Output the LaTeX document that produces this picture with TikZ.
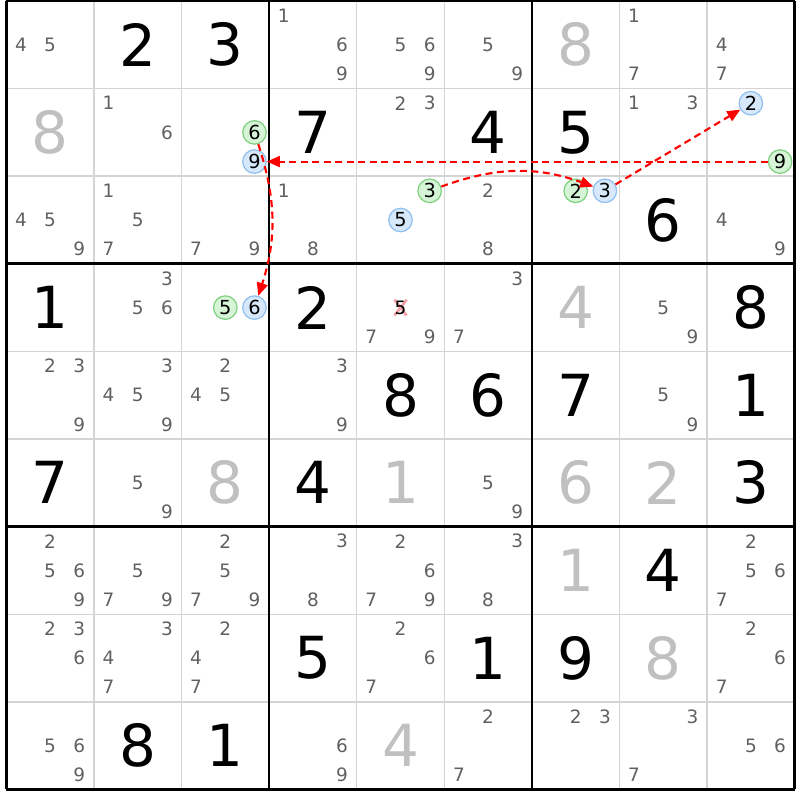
\documentclass[tikz,border=0pt]{standalone}
\usepackage{fontspec}
\setmainfont{DejaVu Sans}
\usetikzlibrary{arrows.meta}

\definecolor{candgray}{HTML}{606060}
\definecolor{solvedgray}{HTML}{C0C0C0}
\definecolor{gridgray}{HTML}{D4D4D4}
\definecolor{greenfill}{HTML}{D6F5D6}
\definecolor{greenline}{HTML}{80D080}
\definecolor{bluefill}{HTML}{D6E8FA}
\definecolor{blueline}{HTML}{90C0F0}
\definecolor{xpink}{HTML}{F4A0A8}
\definecolor{linkred}{HTML}{FF0000}

\tikzset{
  given/.style={font=\fontsize{33}{33}\selectfont, text=black, inner sep=0pt},
  solved/.style={given, text=solvedgray},
  cand/.style={font=\fontsize{10.5}{10.5}\selectfont, text=candgray, inner sep=0pt},
  oncand/.style={circle, draw=greenline, fill=greenfill, line width=0.7pt, minimum size=0.47cm, inner sep=0pt, font=\fontsize{11}{11}\selectfont},
  offcand/.style={oncand, draw=blueline, fill=bluefill},
  thinline/.style={gridgray, line width=0.8pt},
  boxline/.style={black, line width=1.5pt},
  xmark/.style={xpink, line width=1.5pt},
  link/.style={draw=linkred, dash pattern=on 1.4mm off 0.9mm, line width=1.2pt, -{Triangle[length=2.6mm,width=2.2mm]}},
}

\begin{document}
\begin{tikzpicture}[x=1.752cm, y=-1.752cm]
		\useasboundingbox (-0.0719,-0.0114) rectangle (9.0605,9.1210);
		
		% Grid
		\foreach \i in {1,2,4,5,7,8} {
			\draw[thinline] (\i,0) -- (\i,9);
			\draw[thinline] (0,\i) -- (9,\i);
		}
		\foreach \i in {0,3,6,9} {
			\draw[boxline] (\i,0) -- (\i,9);
			\draw[boxline] (0,\i) -- (9,\i);
		}
		
		% Givens
		\foreach \r/\c/\d in {1/2/2, 1/3/3, 2/4/7, 2/6/4, 2/7/5, 3/8/6, 4/1/1, 4/4/2, 4/9/8,
				5/5/8, 5/6/6, 5/7/7, 5/9/1, 6/1/7, 6/4/4, 6/9/3, 7/8/4, 8/4/5, 8/6/1, 8/7/9,
				9/2/8, 9/3/1}
			\node[given] (v\r\c) at (\c-0.5,\r-0.5) {\d};
		
		% Solved
		\foreach \r/\c/\d in {1/7/8, 2/1/8, 4/7/4, 6/3/8, 6/5/1, 6/7/6, 6/8/2, 7/7/1, 8/8/8, 9/5/4}
			\node[solved] (v\r\c) at (\c-0.5,\r-0.5) {\d};
		
		% Candidates
		\foreach \r/\c/\ds in {1/1/{4,5}, 1/4/{1,6,9}, 1/5/{5,6,9}, 1/6/{5,9}, 1/8/{1,7}, 1/9/{4,7},
				2/2/{1,6}, 2/5/{2,3}, 2/8/{1,3},
				3/1/{4,5,9}, 3/2/{1,5,7}, 3/3/{7,9}, 3/4/{1,8}, 3/6/{2,8}, 3/9/{4,9},
				4/2/{3,5,6}, 4/5/{7,9}, 4/6/{3,7}, 4/8/{5,9},
				5/1/{2,3,9}, 5/2/{3,4,5,9}, 5/3/{2,4,5}, 5/4/{3,9}, 5/8/{5,9},
				6/2/{5,9}, 6/6/{5,9},
				7/1/{2,5,6,9}, 7/2/{5,7,9}, 7/3/{2,5,7,9}, 7/4/{3,8}, 7/5/{2,6,7,9}, 7/6/{3,8}, 7/9/{2,5,6,7},
				8/1/{2,3,6}, 8/2/{3,4,7}, 8/3/{2,4,7}, 8/5/{2,6,7}, 8/9/{2,6,7},
				9/1/{5,6,9}, 9/4/{6,9}, 9/6/{2,7}, 9/7/{2,3}, 9/8/{3,7}, 9/9/{5,6}}
			\foreach \d in \ds {
				\pgfmathsetmacro{\cx}{\c-1+(2*mod(\d-1,3)+1)/6}
				\pgfmathsetmacro{\cy}{\r-1+(2*int((\d-1)/3)+1)/6}
				\node[cand] (r\r c\c n\d) at (\cx,\cy) {\d};
			}
		
		% Chain
		\node[oncand] (r2c3n6) at (2.833,1.5) {6};
		\node[offcand] (r2c3n9) at (2.833,1.833) {9};
		\node[offcand] (r2c9n2) at (8.5,1.167) {2};
		\node[oncand] (r2c9n9) at (8.833,1.833) {9};
		\node[oncand] (r3c5n3) at (4.833,2.167) {3};
		\node[offcand] (r3c5n5) at (4.5,2.5) {5};
		\node[oncand] (r3c7n2) at (6.5,2.167) {2};
		\node[offcand] (r3c7n3) at (6.833,2.167) {3};
		\node[oncand] (r4c3n5) at (2.5,3.5) {5};
		\node[offcand] (r4c3n6) at (2.833,3.5) {6};
		
		% Elimination
		\draw[xmark] (4.43,3.41) -- (4.57,3.59);
		\draw[xmark] (4.43,3.59) -- (4.57,3.41);
		\node[cand, text=black] (r4c5n5) at (4.5,3.5) {5};
		
		% Links
		\draw[link] (r2c9n9) -- (r2c3n9);
		\draw[link] (r2c3n6) to[bend left=18] (r4c3n6);
		\draw[link] (r3c5n3) to[bend left=20] (r3c7n3);
		\draw[link] (r3c7n3) -- (r2c9n2);
	\end{tikzpicture}
\end{document}
